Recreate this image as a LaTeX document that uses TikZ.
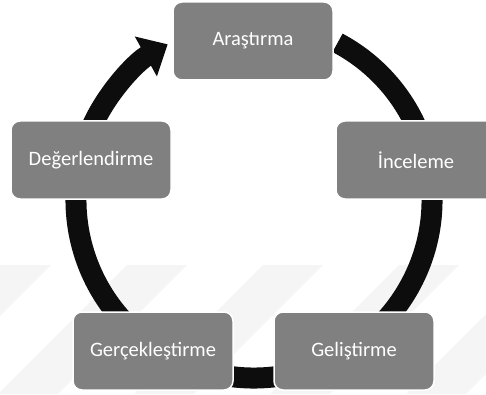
\documentclass[tikz,border=0pt]{standalone}
\usepackage{fontspec}
\setmainfont{Carlito}
\usetikzlibrary{arrows.meta, positioning}
\usepackage{xcolor}
\definecolor{cBox}{RGB}{128, 128, 128}
\definecolor{bBox}{RGB}{255, 255, 255}
\definecolor{cRing}{RGB}{13, 13, 13}
\definecolor{cMark}{RGB}{245, 245, 245}

\begin{document}
\begin{tikzpicture}[
    x=1pt, y=1pt,
    font=\fontsize{20.5}{24}\selectfont,
    block/.style={
        draw=bBox,
        fill=cBox,
        line width=1.5pt,
        rounded corners=9pt,
        text=white,
        align=center,
        minimum width=160pt,
        minimum height=78pt
    },
    ring/.style={-{Triangle[width=44pt, length=25pt]}, line width=21pt, color=cRing},
    wmark/.style={fill=cMark}
]
\useasboundingbox (0,0) rectangle (486,394);

% faint stripes in the back
\foreach \s in {-9, 127, 263, 399, 535}
    \fill[wmark] (\s,129) -- ++(60,0) -- ++(-129,-129) -- ++(-60,0) -- cycle;

% cycle ring
\coordinate (hub) at (254, 194);
\draw[ring] ([shift={(62:178)}]hub) arc[start angle=62, end angle=-241, radius=178];

% Stages
\node[block] (arastirma) at (253, 353) {Araştırma};
\node[block] (inceleme) at (416, 234) {İnceleme};
\node[block] (gelistirme) at (354, 43) {Geliştirme};
\node[block] (gerceklestirme) at (153, 43) {Gerçekleştirme};
\node[block] (degerlendirme) at (91, 234) {Değerlendirme};

\end{tikzpicture}
\end{document}
